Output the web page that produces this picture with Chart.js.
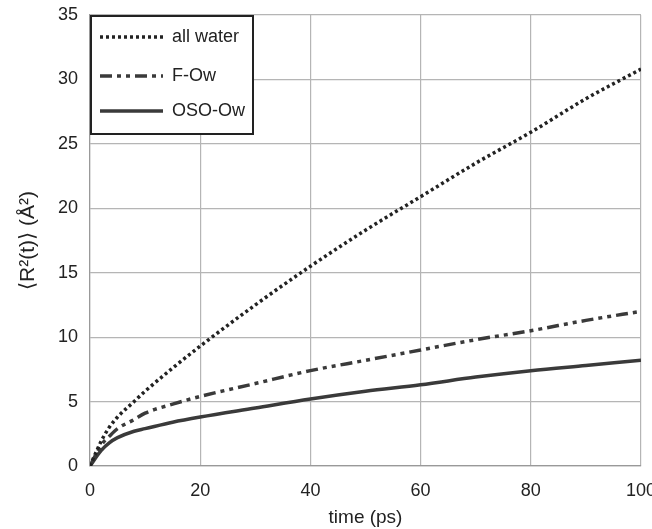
<!DOCTYPE html>
<html>
<head>
<meta charset="utf-8">
<script src="https://cdn.jsdelivr.net/npm/chart.js@4/dist/chart.umd.min.js"></script>
<style>
    html, body { margin: 0; padding: 0; background: #fff; }
    #wrap { width: 652px; height: 529px; }
</style>
</head>
<body>
<div id="wrap"><canvas id="chart1" width="652" height="529"></canvas></div>
<script>
// values
var times = [0, 2, 3.5, 5, 8, 10, 15, 20, 30, 40, 50, 60, 70, 80, 90, 100];
var allWater = [0, 1.9, 3.0, 3.8, 5.0, 5.8, 7.6, 9.3, 12.5, 15.5, 18.3, 20.9, 23.5, 25.9, 28.5, 30.8];
var fOw = [0, 1.6, 2.3, 2.9, 3.6, 4.1, 4.8, 5.4, 6.4, 7.4, 8.2, 9.0, 9.8, 10.5, 11.3, 12.0];
var osoOw = [0, 1.2, 1.8, 2.2, 2.7, 2.9, 3.4, 3.8, 4.5, 5.2, 5.8, 6.3, 6.9, 7.4, 7.8, 8.2];

var seriesNames = ["all water", "F-Ow", "OSO-Ow"];
var xTicks = [0, 20, 40, 60, 80, 100];
var yTicks = [0, 5, 10, 15, 20, 25, 30, 35];

var lineColour = "#3a3a3a";
var font = "'Liberation Sans', Arial, Helvetica, sans-serif";

function toPoints(ys) {
    var pts = [];
    for (var i = 0; i < times.length; i++) {
        pts.push({ x: times[i], y: ys[i] });
    }
    return pts;
}

// legend box drawn inside the plot area, top left
var boxLegend = {
    id: "boxLegend",
    afterDraw: function (chart) {
        var ctx = chart.ctx;
        var area = chart.chartArea;
        var x0 = area.left, y0 = area.top;
        var w = 163, h = 119;
        var rows = [22, 61, 96];
        ctx.save();
        ctx.fillStyle = "#fff";
        ctx.fillRect(x0, y0, w, h);
        ctx.strokeStyle = "#222";
        ctx.lineWidth = 2;
        ctx.strokeRect(x0 + 1, y0 + 1, w - 1, h - 1);
        chart.data.datasets.forEach(function (ds, i) {
            var y = y0 + rows[i];
            ctx.beginPath();
            ctx.setLineDash(ds.borderDash || []);
            ctx.strokeStyle = ds.borderColor;
            ctx.lineWidth = ds.borderWidth;
            ctx.moveTo(x0 + 10, y);
            ctx.lineTo(x0 + 73, y);
            ctx.stroke();
            ctx.setLineDash([]);
            ctx.fillStyle = "#222";
            ctx.font = "18px " + font;
            ctx.textBaseline = "middle";
            ctx.fillText(ds.label, x0 + 82, y);
        });
        ctx.restore();
    }
};

var ctx = document.getElementById("chart1");
var chart = new Chart(ctx, {
    type: "line",
    data: {
        datasets: [
            {
                label: seriesNames[0],
                data: toPoints(allWater),
                borderColor: "#222",
                borderWidth: 3.5,
                borderDash: [3, 3],
            },
            {
                label: seriesNames[1],
                data: toPoints(fOw),
                borderColor: lineColour,
                borderWidth: 3.5,
                borderDash: [12, 5, 4, 5, 4, 5],
            },
            {
                label: seriesNames[2],
                data: toPoints(osoOw),
                borderColor: lineColour,
                borderWidth: 3.5,
            }
        ]
    },
    options: {
        responsive: false,
        animation: false,
        layout: { padding: { top: 15, right: 11, left: 0, bottom: 0 } },
        elements: {
            point: { radius: 0 },
            line: { cubicInterpolationMode: "monotone", fill: false }
        },
        plugins: {
            legend: { display: false },
            tooltip: { enabled: false }
        },
        scales: {
            x: {
                type: "linear",
                min: 0,
                max: 100,
                afterBuildTicks: function (axis) {
                    axis.ticks = xTicks.map(function (v) { return { value: v }; });
                },
                afterFit: function (axis) {
                    axis.height = 63;
                    axis.paddingRight = 0;
                    axis.paddingLeft = 0;
                },
                grid: { color: "#b5b5b5", lineWidth: 1.2, drawTicks: false },
                border: { color: "#999", width: 1.2 },
                ticks: { color: "#222", padding: 14, font: { family: font, size: 18 } },
                title: {
                    display: true,
                    text: "time (ps)",
                    color: "#222",
                    padding: { top: 4, bottom: 0 },
                    font: { family: font, size: 19 }
                }
            },
            y: {
                min: 0,
                max: 35,
                afterBuildTicks: function (axis) {
                    axis.ticks = yTicks.map(function (v) { return { value: v }; });
                },
                afterFit: function (axis) {
                    axis.width = 90;
                    axis.paddingTop = 0;
                    axis.paddingBottom = 0;
                },
                grid: { color: "#b5b5b5", lineWidth: 1.2, drawTicks: false },
                border: { color: "#999", width: 1.2 },
                ticks: { color: "#222", padding: 12, font: { family: font, size: 18 } },
                title: {
                    display: true,
                    text: "\u27E8R\u00B2(t)\u27E9 (\u00C5\u00B2)",
                    color: "#222",
                    padding: { top: 16, bottom: 0 },
                    font: { family: font, size: 21 }
                }
            }
        }
    },
    plugins: [boxLegend]
});
</script>
</body>
</html>
